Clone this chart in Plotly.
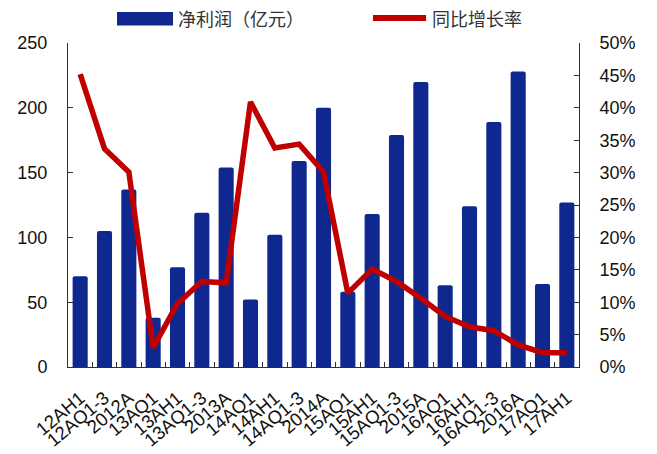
import plotly.graph_objects as go

# Reporting periods
periods = ["12AH1", "12AQ1-3", "2012A", "13AQ1", "13AH1", "13AQ1-3", "2013A",
           "14AQ1", "14AH1", "14AQ1-3", "2014A", "15AQ1", "15AH1", "15AQ1-3",
           "2015A", "16AQ1", "16AH1", "16AQ1-3", "2016A", "17AQ1", "17AH1"]

# Net profit (100 million yuan)
net_profit = [70, 105, 137, 38, 77, 119, 154, 52, 102, 159, 200, 58, 118, 179,
              220, 63, 124, 189, 228, 64, 127]

# Year-over-year growth rate
yoy_growth = [0.452, 0.337, 0.301, 0.030, 0.098, 0.132, 0.130, 0.409, 0.338,
              0.344, 0.301, 0.114, 0.151, 0.132, 0.106, 0.078, 0.062, 0.056,
              0.034, 0.022, 0.022]

bar_name = "净利润（亿元）"
line_name = "同比增长率"

BAR_COLOR = "#0F2890"
LINE_COLOR = "#C00000"
AXIS_COLOR = "#303030"
FONT = "Liberation Sans, Arial, sans-serif"
CJK_FONT = "Noto Sans CJK SC, sans-serif"

W, H = 657, 454
ML, MR, MT, MB = 68, 78, 43, 87
PW, PH = W - ML - MR, H - MT - MB

fig = go.Figure()
fig.add_trace(go.Bar(x=periods, y=net_profit, name=bar_name,
                     marker=dict(color=BAR_COLOR, line=dict(width=0),
                                 cornerradius=2),
                     yaxis="y"))
fig.add_trace(go.Scatter(x=periods, y=yoy_growth, name=line_name,
                         mode="lines", line=dict(color=LINE_COLOR, width=5.5),
                         yaxis="y2"))


def px_x(p):
    return (p - ML) / PW


def px_y(p):
    return (H - MB - p) / PH


# Legend drawn along the top edge
shapes = [
    dict(type="rect", xref="paper", yref="paper",
         x0=px_x(117), x1=px_x(173), y0=px_y(25.5), y1=px_y(12),
         fillcolor=BAR_COLOR, line=dict(width=0)),
    dict(type="line", xref="paper", yref="paper",
         x0=px_x(373), x1=px_x(426), y0=px_y(18), y1=px_y(18),
         line=dict(color=LINE_COLOR, width=6)),
]
annotations = [
    dict(text=bar_name, xref="paper", yref="paper", x=px_x(176), y=px_y(18),
         xanchor="left", yanchor="middle", showarrow=False,
         font=dict(family=CJK_FONT, size=18, color="#333333")),
    dict(text=line_name, xref="paper", yref="paper", x=px_x(430), y=px_y(18),
         xanchor="left", yanchor="middle", showarrow=False,
         font=dict(family=CJK_FONT, size=18, color="#333333")),
]

fig.update_layout(
    width=W, height=H,
    margin=dict(l=ML, r=MR, t=MT, b=MB, autoexpand=False),
    paper_bgcolor="white", plot_bgcolor="white",
    showlegend=False,
    bargap=0.38,
    font=dict(family=FONT, size=18, color="#111111"),
    shapes=shapes,
    annotations=annotations,
    xaxis=dict(type="category", tickmode="array", tickvals=periods,
               ticktext=periods, tickangle=-40, automargin=False,
               ticks="inside", tickson="boundaries", ticklen=5,
               tickcolor=AXIS_COLOR, showline=True, linecolor=AXIS_COLOR,
               linewidth=1, showgrid=False, zeroline=False,
               tickfont=dict(size=18.5), ticklabelstandoff=12),
    yaxis=dict(range=[0, 250], dtick=50, tick0=0, ticks="inside", ticklen=5,
               automargin=False,
               tickcolor=AXIS_COLOR, showline=True, linecolor=AXIS_COLOR,
               linewidth=1, showgrid=False, zeroline=False,
               tickfont=dict(size=18), ticklabelstandoff=16),
    yaxis2=dict(range=[0, 0.5], dtick=0.05, tick0=0, tickformat=".0%",
                overlaying="y", side="right", ticks="inside", ticklen=5,
                automargin=False,
                tickcolor=AXIS_COLOR, showline=True, linecolor=AXIS_COLOR,
                linewidth=1, showgrid=False, zeroline=False,
                tickfont=dict(size=18), ticklabelstandoff=16),
)

fig.write_html("out.html")
